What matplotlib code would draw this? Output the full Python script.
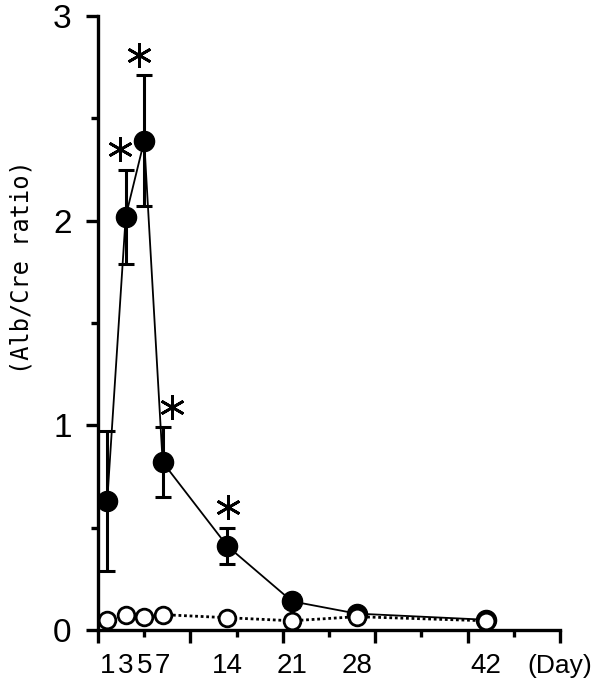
import matplotlib
matplotlib.use("Agg")
import matplotlib.pyplot as plt

# dias de coleta
dias = [1, 3, 5, 7, 14, 21, 28, 42]

# grupo tratado (circulos cheios) - media e erro
tratado = [0.63, 2.02, 2.39, 0.82, 0.41, 0.14, 0.08, 0.05]
tratado_erro = [0.34, 0.23, 0.32, 0.17, 0.09, 0.03, 0.0, 0.0]

# grupo controle (circulos vazios)
controle = [0.05, 0.075, 0.065, 0.075, 0.06, 0.045, 0.065, 0.045]

# dias com diferenca significativa (*)
dias_sig = [3, 5, 7, 14]
sig_idx = [dias.index(d) for d in dias_sig]

rotulos_x = ["1", "3", "5", "7", "14", "21", "28", "42"]
rotulos_y = ["0", "1", "2", "3"]

plt.rcParams['font.family'] = ['Liberation Sans', 'DejaVu Sans']

fig = plt.figure(figsize=(6.0, 6.91), dpi=100)
ax = fig.add_axes([0.1633, 0.0883, 0.77, 0.8885])

# linha e pontos do grupo tratado
ax.errorbar(dias, tratado, yerr=tratado_erro, fmt='o-', color='black',
            ms=14.5, lw=1.3, elinewidth=2.2, capsize=5.5, capthick=2.2, zorder=3)

# grupo controle
ax.plot(dias, controle, linestyle=(0, (1, 1)), color='black', lw=2,
        marker='o', ms=12, mfc='white', mec='black', mew=2, zorder=4)

# asteriscos acima das barras de erro
ax_x = [dias[i] - 0.6 if dias[i] < 7 else dias[i] + (1.0 if dias[i] == 7 else 0.1) for i in sig_idx]
ax_y = [tratado[i] + tratado_erro[i] + 0.1 for i in sig_idx]
ax.plot(ax_x, ax_y, linestyle='none', marker=(6, 2, 0), ms=18, mew=2.0,
        color='black', zorder=5)

ax.set_xlim(0, 50)
ax.set_ylim(0, 3)

for s in ['top', 'right']:
    ax.spines[s].set_visible(False)
for s in ['left', 'bottom']:
    ax.spines[s].set_linewidth(2.4)

ax.set_xticks(range(0, 51, 10))
ax.set_xticks(range(5, 50, 10), minor=True)
ax.set_xticklabels([])
ax.tick_params(axis='x', which='major', length=9, width=2.4, direction='out')
ax.tick_params(axis='x', which='minor', length=5, width=2.4, direction='out')

ax.set_yticks([0, 1, 2, 3])
ax.set_yticks([0.5, 1.5, 2.5], minor=True)
ax.set_yticklabels(rotulos_y, fontsize=24)
ax.tick_params(axis='y', which='major', length=9, width=2.4, pad=10, direction='out')
ax.tick_params(axis='y', which='minor', length=5, width=2.4, direction='out')

# rotulos do eixo x nos dias
trans = ax.get_xaxis_transform()
for d, r in zip(dias, rotulos_x):
    ax.text(d, -0.058, r, transform=trans, ha='center', va='center', fontsize=20)
ax.text(50, -0.058, "(Day)", transform=trans, ha='center', va='center', fontsize=19,
        clip_on=False)

fig.text(0.036, 0.6136, "(Alb/Cre ratio)", rotation=90, ha='center', va='center',
         fontsize=17, family='DejaVu Sans Mono')

fig.savefig("out.png", dpi=100, facecolor='white')
